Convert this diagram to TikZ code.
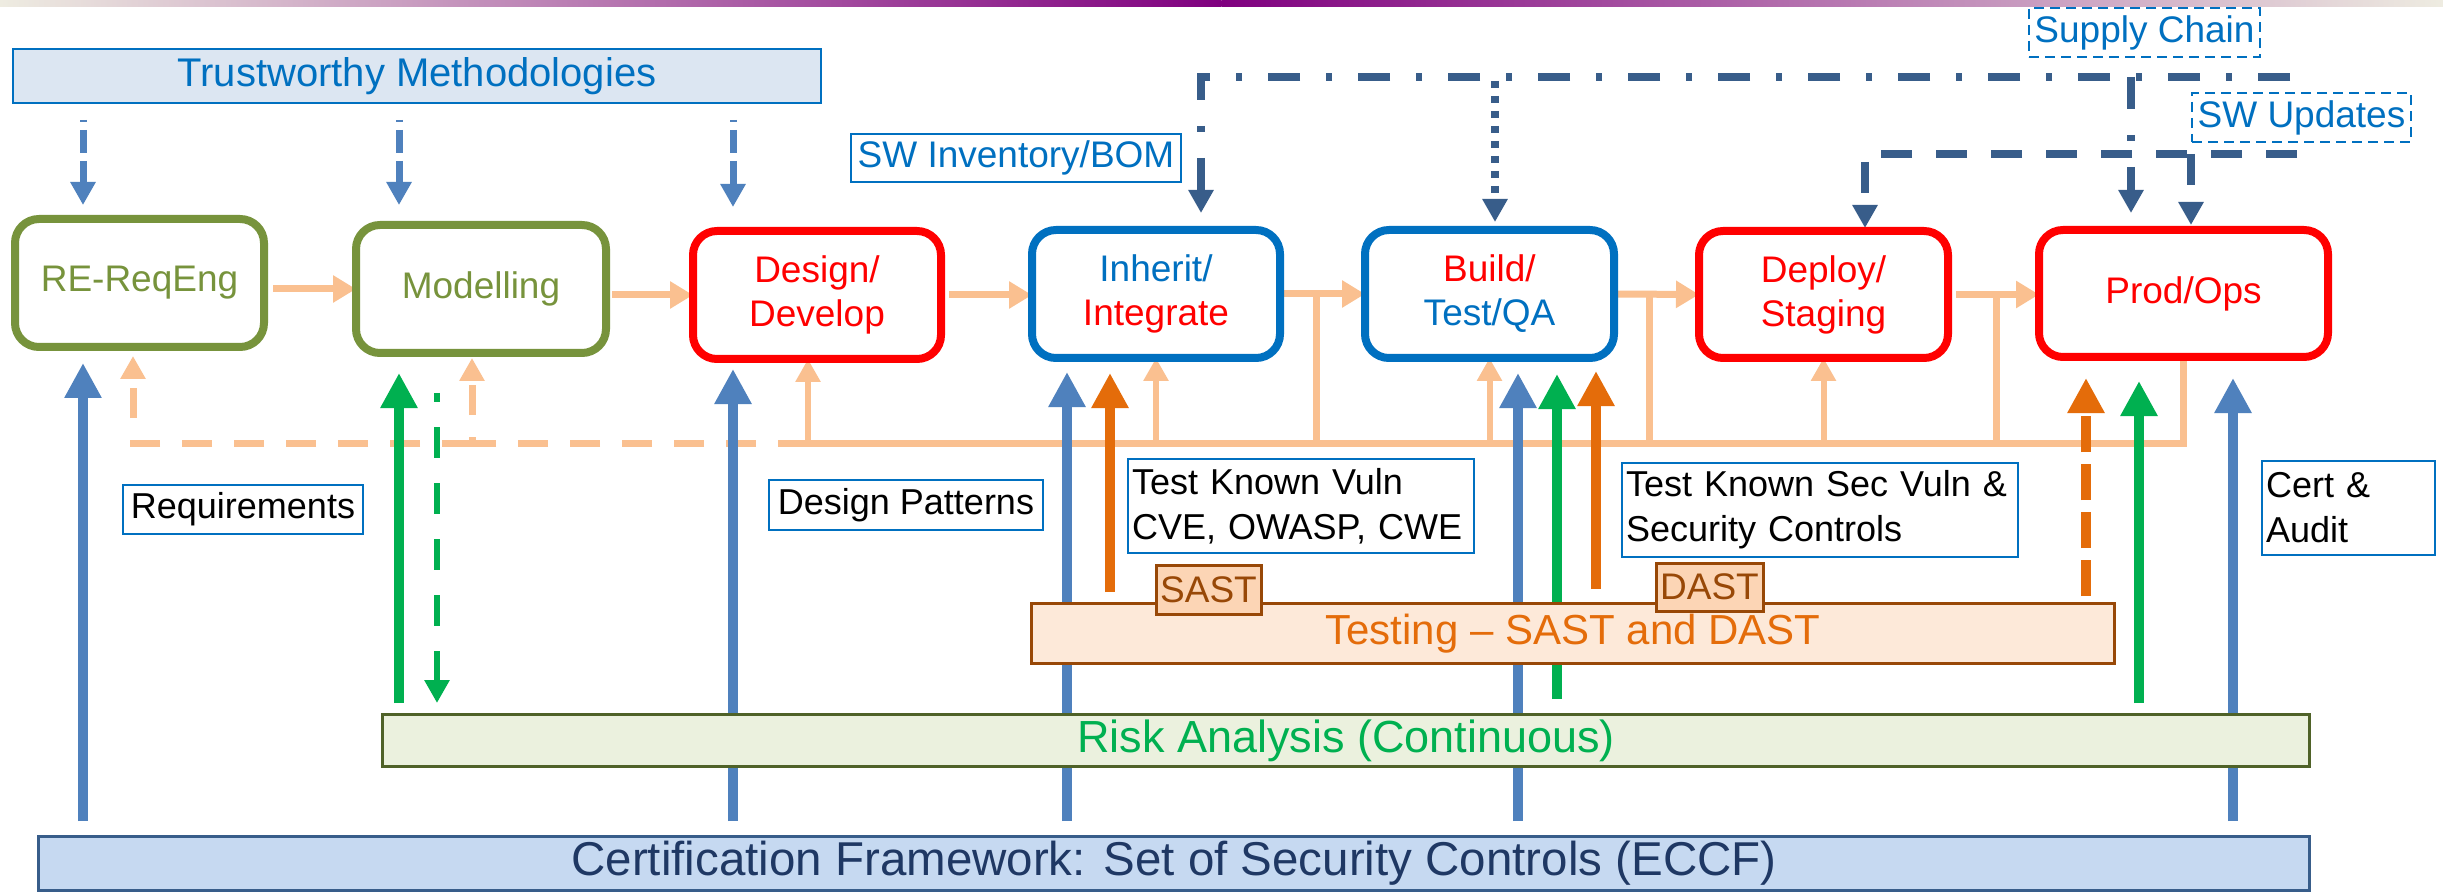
\documentclass[tikz,border=0pt]{standalone}
\usepackage{fontspec}
\setmainfont{Liberation Sans}
\usetikzlibrary{arrows.meta}
\pgfdeclarelayer{back}
\pgfsetlayers{back,main}
\definecolor{tblue}{HTML}{0070C0}
\definecolor{tfill}{HTML}{DCE6F2}
\definecolor{sblue}{HTML}{4F81BD}
\definecolor{cOlive}{HTML}{77933C}
\definecolor{cRed}{HTML}{FF0000}
\definecolor{peach}{HTML}{FAC090}
\definecolor{dorange}{HTML}{E46C0A}
\definecolor{tgreen}{HTML}{00B050}
\definecolor{navy}{HTML}{385D8A}
\definecolor{cBrown}{HTML}{984807}
\definecolor{testfill}{HTML}{FDE9D9}
\definecolor{tagfill}{HTML}{FCD5B5}
\definecolor{riskfill}{HTML}{EBF1DE}
\definecolor{riskborder}{HTML}{4F6228}
\definecolor{certfill}{HTML}{C6D9F1}
\definecolor{certborder}{HTML}{385D8A}
\definecolor{certtext}{HTML}{1F3864}
\definecolor{barL}{HTML}{EEECE1}
\definecolor{barM}{HTML}{7F007F}
\tikzset{
  proc/.style={draw, line width=4pt, rounded corners=12pt, fill=white, inner sep=0pt, outer sep=0pt, align=center, font=\fontsize{18.5}{22}\selectfont},
  lbl/.style={draw=tblue, line width=1.2pt, fill=white, inner sep=0pt, outer sep=0pt, font=\fontsize{18}{22.5}\selectfont},
  lbltwo/.style={lbl, align=left, inner xsep=2pt, minimum height=47pt},
  lbldash/.style={lbl, text=tblue, dash pattern=on 5pt off 3pt, font=\fontsize{18.5}{22}\selectfont},
  trustbox/.style={draw=tblue, fill=tfill, line width=1.2pt, inner sep=0pt, outer sep=0pt, minimum width=404pt, minimum height=27pt, text=tblue, font=\fontsize{20}{24}\selectfont},
  testbox/.style={draw=cBrown, fill=testfill, line width=1.5pt, inner sep=0pt, outer sep=0pt, minimum width=541.5pt, minimum height=30pt, text=dorange, font=\fontsize{21}{25}\selectfont},
  tagbox/.style={draw=cBrown, fill=tagfill, line width=1.5pt, inner sep=0pt, outer sep=0pt, text=cBrown, font=\fontsize{18.5}{22}\selectfont},
  riskbox/.style={draw=riskborder, fill=riskfill, line width=1.5pt, inner sep=0pt, outer sep=0pt, minimum width=963.5pt, minimum height=26pt, text=tgreen, font=\fontsize{22.5}{27}\selectfont},
  certbox/.style={draw=certborder, fill=certfill, line width=1.5pt, inner sep=0pt, outer sep=0pt, minimum width=1135.5pt, minimum height=27pt, text=certtext, font=\fontsize{23.75}{28}\selectfont},
  bigtip/.style={-{Triangle[length=17.5pt,width=17.5pt]}},
  smalltip/.style={-{Triangle[length=11.5pt,width=12pt]}},
  bluearr/.style={draw=sblue, line width=5pt, bigtip},
  greenarr/.style={draw=tgreen, line width=5pt, bigtip},
  orangearr/.style={draw=dorange, line width=5pt, bigtip},
  orangedash/.style={orangearr, dash pattern=on 18pt off 6pt},
  greendash/.style={draw=tgreen, line width=3pt, smalltip, dash pattern=on 15.5pt off 12.5pt, dash phase=11pt},
  tdash/.style={draw=sblue, line width=3.5pt, smalltip, dash pattern=on 11.5pt off 4pt, dash phase=10.5pt},
  fwd/.style={draw=peach, line width=3.5pt, -{Triangle[length=11.5pt,width=13pt]}},
  fbk/.style={draw=peach, line width=3pt, smalltip},
  bus/.style={draw=peach, line width=3.5pt},
  fbkdash/.style={draw=peach, line width=3.5pt, smalltip, dash pattern=on 15pt off 11pt},
  scline/.style={draw=navy, line width=4pt, smalltip, dash pattern=on 16pt off 13pt on 3pt off 13pt},
  dotline/.style={draw=navy, line width=4pt, smalltip, dash pattern=on 3.5pt off 4pt},
  swline/.style={draw=navy, line width=4pt, smalltip, dash pattern=on 15.5pt off 12pt}
}
\begin{document}
\begin{tikzpicture}[x=0.5pt,y=-0.5pt]
\useasboundingbox (0,0) rectangle (2443,893);

% ---------- nodes ----------
\node[trustbox] (trust) at (417,76) {Trustworthy Methodologies};

\node[proc, draw=cOlive, text=cOlive, minimum width=124.5pt, minimum height=64pt] (re) at (139.5,283) {RE-ReqEng};
\node[proc, draw=cOlive, text=cOlive, minimum width=125pt, minimum height=64pt] (mod) at (481,289) {Modelling};
\node[proc, draw=cRed, text=cRed, minimum width=124pt, minimum height=64pt] (des) at (817,295) {Design/\\Develop};
\node[proc, draw=tblue, text=tblue, minimum width=124pt, minimum height=64pt] (inh) at (1156,294) {Inherit/\\\textcolor{cRed}{Integrate}};
\node[proc, draw=tblue, text=tblue, minimum width=124.5pt, minimum height=64pt] (bld) at (1489.5,294) {\textcolor{cRed}{Build/}\\Test/QA};
\node[proc, draw=cRed, text=cRed, minimum width=124.5pt, minimum height=63.5pt] (dep) at (1823.5,294.5) {Deploy/\\Staging};
\node[proc, draw=cRed, text=cRed, minimum width=144.5pt, minimum height=63.5pt] (prod) at (2183.5,293.5) {Prod/Ops};

\node[lbl, text=tblue, minimum width=165pt, minimum height=24pt, font=\fontsize{18.5}{22}\selectfont] (swinv) at (1016,158) {SW Inventory/BOM};
\node[lbldash, minimum width=115.5pt, minimum height=24.5pt] (sc) at (2144.5,32.5) {Supply Chain};
\node[lbldash, minimum width=109.5pt, minimum height=24.5pt] (swu) at (2301.5,117.5) {SW Updates};

\node[lbl, minimum width=120pt, minimum height=24.5pt] (req) at (243,509.5) {Requirements};
\node[lbl, minimum width=137pt, minimum height=25pt] (dp) at (906,505) {Design Patterns};
\node[lbltwo, text width=169pt] (tkv) at (1301,506) {Test Known Vuln\\CVE, OWASP, CWE};
\node[lbltwo, text width=194pt] (tksv) at (1820,510) {Test Known Sec Vuln \&\\Security Controls};
\node[lbltwo, text width=82.5pt] (ca) at (2348.5,508) {Cert \&\\Audit};

\node[testbox] (test) at (1573,633.5) {Testing – SAST and DAST};
\node[tagbox, minimum width=52.5pt, minimum height=24.5pt] (sast) at (1208.5,589.5) {SAST};
\node[tagbox, minimum width=53.5pt, minimum height=24pt] (dast) at (1709.5,587) {DAST};
\node[riskbox] (risk) at (1346,740.5) {Risk Analysis (Continuous)};
\node[certbox] (cfw) at (1174,863.5) {Certification Framework: Set of Security Controls (ECCF)};

% ---------- connectors ----------
\begin{pgfonlayer}{back}
\fill[white] (0,0) rectangle (2443,893);
\shade[left color=barL,right color=barM] (0,0) rectangle (1221.5,7);
\shade[left color=barM,right color=barL] (1221.5,0) rectangle (2443,7);
% x positions
\coordinate (xa) at (83,0);
\coordinate (xb) at (399,0);
\coordinate (xc) at (733,0);
\coordinate (xd) at (1067,0);
\coordinate (xe) at (1518,0);
\coordinate (xf) at (2233,0);
\coordinate (xg) at (437,0);
\coordinate (xh) at (1557,0);
\coordinate (xi) at (2139,0);
\coordinate (xj) at (1110,0);
\coordinate (xk) at (1596,0);
\coordinate (xl) at (2086,0);

% peach forward arrows
\draw[fwd, shorten <=4.5pt] (re.east |- mod.west) -- (mod.west);
\draw[fwd, shorten <=3pt] (mod.east |- des.west) -- (des.west);
\draw[fwd, shorten <=4pt] (des.east) -- (des.east -| inh.west);
\draw[fwd, shorten <=2pt] (inh.east) -- (bld.west);
\draw[fwd, shorten <=2pt] (bld.east) -- (dep.west);
\draw[fwd, shorten <=4pt] (dep.east) -- (dep.east -| prod.west);

% feedback bus
\coordinate (bD) at (808,443);
\coordinate (bM) at (472,443);
\coordinate (bR) at (133,443);
\coordinate (v1) at (1316,443);
\coordinate (v2) at (1649,443);
\coordinate (v3) at (1996,443);
\draw[bus] (prod.south) |- (bD);
\draw[bus] (v1) -- (v1 |- inh.east);
\draw[bus] (v2) -- (v2 |- bld.east);
\draw[bus] (v3) -- (v3 |- dep.east);
\draw[fbk] (bD) -- (bD |- des.south);
\draw[fbk] (inh.south |- bD) -- (inh.south);
\draw[fbk] (bld.south |- bD) -- (bld.south);
\draw[fbk] (dep.south |- bD) -- (dep.south);
\draw[fbkdash, shorten >=2.5pt] (bD) -- (bM) -- (bM |- mod.south);
\draw[fbkdash, shorten >=4.5pt] (bM) -- (bR) -- (bR |- re.south);

% trustworthy methodology arrows
\draw[tdash, shorten <=8.5pt, shorten >=7pt] (xa |- trust.south) -- (xa |- re.north);
\draw[tdash, shorten <=8.5pt, shorten >=10pt] (xb |- trust.south) -- (xb |- mod.north);
\draw[tdash, shorten <=8.5pt, shorten >=12pt] (xc |- trust.south) -- (xc |- des.north);

% certification arrows
\draw[bluearr, shorten <=7.75pt, shorten >=8pt] (xa |- cfw.north) -- (xa |- re.south);
\draw[bluearr, shorten <=7.75pt, shorten >=5pt] (xc |- cfw.north) -- (xc |- des.south);
\draw[bluearr, shorten <=7.75pt, shorten >=7pt] (xd |- cfw.north) -- (xd |- inh.south);
\draw[bluearr, shorten <=7.75pt, shorten >=7.5pt] (xe |- cfw.north) -- (xe |- bld.south);
\draw[bluearr, shorten <=7.75pt, shorten >=10.5pt] (xf |- cfw.north) -- (xf |- prod.south);

% risk analysis arrows
\draw[greenarr, shorten <=5.75pt, shorten >=10pt] (xb |- risk.north) -- (xb |- mod.south);
\draw[greendash, shorten <=20pt, shorten >=5.75pt] (xg |- mod.south) -- (xg |- risk.north);
\draw[greenarr, shorten <=7.75pt, shorten >=8pt] (xh |- risk.north) -- (xh |- bld.south);
\draw[greenarr, shorten <=5.75pt, shorten >=12pt] (xi |- risk.north) -- (xi |- prod.south);

% testing arrows
\draw[orangearr, shorten <=5.75pt, shorten >=7.5pt] (xj |- test.north) -- (xj |- inh.south);
\draw[orangearr, shorten <=7.25pt, shorten >=6.5pt] (xk |- test.north) -- (xk |- bld.south);
\draw[orangedash, shorten <=3.75pt, shorten >=10.5pt] (xl |- test.north) -- (xl |- prod.south);

% supply chain / SW updates
\coordinate (scR) at (2290,77);
\coordinate (scL) at (1201,77);
\coordinate (scB) at (1495,81);
\coordinate (scP) at (2131,77);
\draw[scline, shorten >=8.5pt] (scR) -- (scL) -- (scL |- inh.north);
\draw[scline, shorten >=8.5pt] (scP) -- (scP |- prod.north);
\draw[dotline, shorten >=4pt] (scB) -- (scB |- bld.north);
\coordinate (suR) at (2297,154);
\coordinate (suL) at (1865,154);
\coordinate (suP) at (2191,154);
\draw[swline, shorten >=1.5pt] (suR) -- (suL) -- (suL |- dep.north);
\draw[swline, shorten >=2.5pt] (suP) -- (suP |- prod.north);
\end{pgfonlayer}
\end{tikzpicture}
\end{document}
